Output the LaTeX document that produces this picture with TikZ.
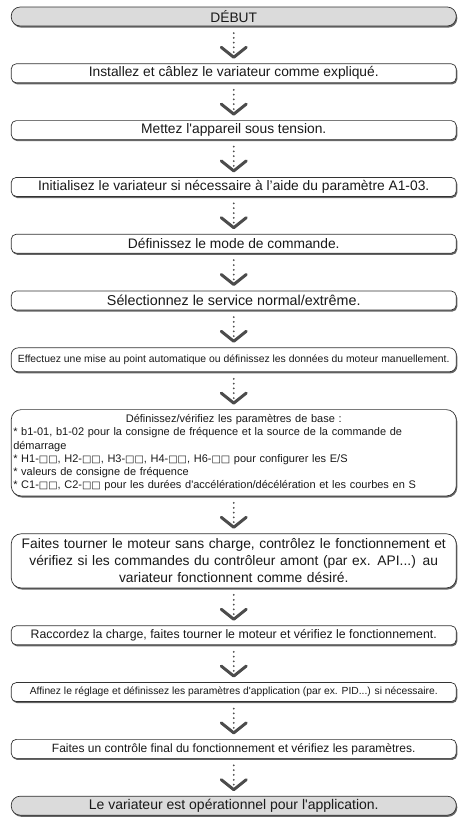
\documentclass[tikz,border=0pt]{standalone}
\usepackage{fontspec}
\setmainfont{Liberation Sans}
\newfontfamily\symfont[Scale=0.9]{DejaVu Sans}
\usetikzlibrary{positioning,shadows,arrows.meta}
\newcommand{\fs}[1]{\fontsize{#1}{1.2\dimexpr#1pt\relax}\selectfont}
\newcommand{\sq}{{\symfont □□}}
\newcommand{\ap}{\textquotesingle}
\tikzset{
	stepbox/.style={draw=black!80,line width=.7pt,fill=white,rounded corners=5pt,minimum width=445pt,minimum height=19pt,inner xsep=3pt,inner ysep=0pt,outer sep=0pt,text=black!90,drop shadow={shadow xshift=1pt,shadow yshift=-1.6pt,fill=black!60,opacity=1}},
	endbox/.style={stepbox,fill=black!14,rounded corners=9pt},
	bigbox/.style={stepbox,rounded corners=10pt,inner xsep=2pt,text width=441pt,inner ysep=5pt},
	flow/.style={draw=black!70,line width=2pt,line cap=round,dash pattern=on 0pt off 4.8pt,shorten <=7pt,shorten >=5pt,-{Straight Barb[length=10pt,width=25pt,line width=3pt,round]}}
}
\begin{document}
\begin{tikzpicture}[x=1pt,y=1pt,node distance=37.8pt]
	\useasboundingbox (0,0) rectangle (459,-839);
	\node[endbox,font=\fs{13.8}] (start) at (233.75,-16.5) {DÉBUT};
	\node[stepbox,font=\fs{13.8},below=of start] (install) {Installez et câblez le variateur comme expliqué.};
	\node[stepbox,font=\fs{13.8},below=of install] (power) {Mettez l\ap appareil sous tension.};
	\node[stepbox,font=\fs{13.8},below=of power] (init) {Initialisez le variateur si nécessaire à l’aide du paramètre A1-03.};
	\node[stepbox,font=\fs{13.8},below=of init] (mode) {Définissez le mode de commande.};
	\node[stepbox,font=\fs{14.3},below=of mode] (duty) {Sélectionnez le service normal/extrême.};
	\node[stepbox,font=\fs{10.4},minimum height=24pt,rounded corners=7pt,below=of duty] (tune) {Effectuez une mise au point automatique ou définissez les données du moteur manuellement.};
	\node[bigbox,font=\fs{11},align=left,below=of tune] (basic) {{\centering Définissez/vérifiez les paramètres de base :\par}
		* b1-01, b1-02 pour la consigne de fréquence et la source de la commande de\newline
		démarrage\par
		* H1-\sq, H2-\sq, H3-\sq, H4-\sq, H6-\sq{} pour configurer les E/S\par
		* valeurs de consigne de fréquence\par
		* C1-\sq, C2-\sq{} pour les durées d\ap accélération/décélération et les courbes en S};
	\node[bigbox,font=\fontsize{13.8}{17}\selectfont,align=center,below=of basic] (noload) {Faites tourner le moteur sans charge, contrôlez le fonctionnement et\\
		vérifiez si les commandes du contrôleur amont (par ex. API...) au\\
		variateur fonctionnent comme désiré.};
	\node[stepbox,font=\fs{12.3},below=of noload] (load) {Raccordez la charge, faites tourner le moteur et vérifiez le fonctionnement.};
	\node[stepbox,font=\fs{10.3},below=of load] (fine) {Affinez le réglage et définissez les paramètres d\ap application (par ex. PID...) si nécessaire.};
	\node[stepbox,font=\fs{12},below=of fine] (check) {Faites un contrôle final du fonctionnement et vérifiez les paramètres.};
	\node[endbox,font=\fs{14},below=of check] (ready) {Le variateur est opérationnel pour l\ap application.};
	\foreach \a/\b in {start/install,install/power,power/init,init/mode,mode/duty,duty/tune,tune/basic,basic/noload,noload/load,load/fine,fine/check,check/ready}
		\draw[flow] (\a.south) -- (\b.north);
\end{tikzpicture}
\end{document}
